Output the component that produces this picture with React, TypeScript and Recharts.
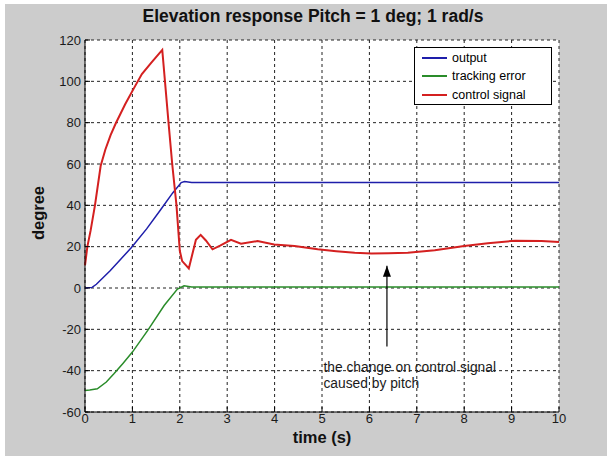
import React from 'react';
import {
  LineChart,
  Line,
  XAxis,
  YAxis,
  CartesianGrid,
  ReferenceLine,
  ReferenceDot,
} from 'recharts';

// elevation output (deg)
const outputTime = [0, 0.15, 0.24, 0.53, 0.98, 1.3, 1.58, 1.85, 2.03, 2.1, 2.25, 10];
const outputValue = [0, 0.3, 1.8, 8.3, 19.6, 28.6, 37.4, 46, 51, 51.5, 51, 51];

// tracking error (deg)
const errorTime = [0, 0.1, 0.26, 0.45, 0.61, 0.8, 1.0, 1.32, 1.67, 1.95, 2.09, 2.25, 10];
const errorValue = [-49.6, -49.4, -48.8, -45.5, -41.5, -36.5, -31, -20.6, -8.5, -0.5, 1.1, 0.5, 0.5];

// control signal
const controlTime = [
  0, 0.05, 0.12, 0.21, 0.33, 0.43, 0.54, 0.65, 0.85, 1.03, 1.2, 1.4, 1.63, 1.77, 1.84, 1.93, 2.0,
  2.05, 2.19, 2.34, 2.44, 2.55, 2.69, 2.85, 3.08, 3.29, 3.64, 3.99, 4.42, 4.91, 5.3, 5.69,
  6.04, 6.4, 6.81, 7.38, 8.0, 8.5, 9.07, 9.63, 10,
];
const controlValue = [
  11, 20, 28, 40, 59, 67, 74, 79.7, 89, 96.6, 103.5, 109, 115.2, 78, 60, 40, 18,
  13, 9.5, 23.3, 25.7, 23, 18.7, 20.5, 23.3, 21.4, 22.7, 21, 20.3, 18.7, 17.8, 17,
  16.7, 16.8, 17, 18.3, 20.3, 21.6, 22.9, 22.7, 22.2,
];

const seriesNames = ['output', 'tracking error', 'control signal'];
const seriesColors = ['#1e1eaa', '#2a8c2a', '#d42020'];

const xTicks = [0, 1, 2, 3, 4, 5, 6, 7, 8, 9, 10];
const yTicks = [-60, -40, -20, 0, 20, 40, 60, 80, 100, 120];

// annotation: arrow from (6.37, -28.3) up to (6.37, 10.8), text anchored at (5.03, -40.8)
const arrowX = 6.37;
const arrowFrom = -28.3;
const arrowTo = 10.8;
const noteX = 5.03;
const noteY = -40.8;
const noteLines = ['the change on control signal', 'caused by pitch'];

const toPoints = (t: number[], v: number[]) => t.map((x, i) => ({ t: x, v: v[i] }));

const seriesData = [
  toPoints(outputTime, outputValue),
  toPoints(errorTime, errorValue),
  toPoints(controlTime, controlValue),
];

const FONT = '"Liberation Sans", Arial, sans-serif';
const tickStyle = { fontSize: 13, fill: '#1a1a1a', fontFamily: FONT };

const LegendBox = () => (
  <div
    style={{
      position: 'absolute',
      left: 414,
      top: 47,
      border: '1px solid #000',
      background: '#fff',
      width: 136,
      height: 55,
      fontFamily: FONT,
      fontSize: 12.5,
      color: '#000',
      paddingTop: 1,
    }}
  >
    {seriesNames.map((name, i) => (
      <div key={name} style={{ display: 'flex', alignItems: 'center', height: 18.3 }}>
        <span
          style={{
            display: 'inline-block',
            width: 25,
            marginLeft: 7,
            marginRight: 5,
            borderTop: `2px solid ${seriesColors[i]}`,
          }}
        />
        <span>{name}</span>
      </div>
    ))}
  </div>
);

const ArrowHead = (props: any) => {
  const { cx, cy } = props;
  return <path d={`M${cx},${cy} L${cx - 4},${cy + 11} L${cx + 4},${cy + 11} Z`} fill="#000" />;
};

const NoteText = (props: any) => {
  const { cx, cy } = props;
  return (
    <text x={cx} y={cy} fontFamily={FONT} fontSize={13.8} fill="#1a1a1a">
      {noteLines.map((line, i) => (
        <tspan key={line} x={cx} dy={i === 0 ? 0 : 15.5}>
          {line}
        </tspan>
      ))}
    </text>
  );
};

export default function App() {
  return (
    <div style={{ position: 'absolute', left: 0, top: 0, width: 611, height: 459, background: '#fff' }}>
      <div
        style={{
          position: 'absolute',
          left: 5,
          top: 4,
          width: 602,
          height: 452,
          background: '#cccccc',
        }}
      />
      <div
        style={{
          position: 'absolute',
          left: 113,
          width: 400,
          top: 6,
          textAlign: 'center',
          fontFamily: FONT,
          fontWeight: 'bold',
          fontSize: 17.5,
          color: '#111',
        }}
      >
        Elevation response Pitch = 1 deg; 1 rad/s
      </div>
      <div style={{ position: 'absolute', left: 0, top: 0 }}>
        <LineChart width={611} height={459} margin={{ top: 40, right: 52, bottom: 17, left: 45 }}>
          <CartesianGrid stroke="#222" strokeDasharray="3 3" fill="#fff" fillOpacity={1} />
          <XAxis
            dataKey="t"
            type="number"
            domain={[0, 10]}
            ticks={xTicks}
            allowDuplicatedCategory={false}
            height={30}
            tickSize={-5}
            tickMargin={7}
            tick={tickStyle}
            stroke="#000"
            label={{
              value: 'time (s)',
              position: 'insideBottom',
              offset: -1,
              style: { fontFamily: FONT, fontWeight: 'bold', fontSize: 16.5, fill: '#111' },
            }}
          />
          <XAxis
            xAxisId="top"
            orientation="top"
            type="number"
            domain={[0, 10]}
            ticks={xTicks}
            height={0}
            tickSize={-5}
            tickFormatter={() => ''}
            stroke="#000"
          />
          <YAxis
            type="number"
            domain={[-60, 120]}
            ticks={yTicks}
            width={40}
            tickSize={-5}
            tickMargin={9}
            tick={tickStyle}
            stroke="#000"
            label={{
              value: 'degree',
              angle: -90,
              position: 'insideLeft',
              offset: -7,
              dy: -13,
              style: { fontFamily: FONT, fontWeight: 'bold', fontSize: 16.5, fill: '#111', textAnchor: 'middle' },
            }}
          />
          <YAxis
            yAxisId="right"
            orientation="right"
            type="number"
            domain={[-60, 120]}
            ticks={yTicks}
            width={0}
            tickSize={-5}
            tickFormatter={() => ''}
            stroke="#000"
          />
          {seriesData.map((data, i) => (
            <Line
              key={seriesNames[i]}
              data={data}
              dataKey="v"
              name={seriesNames[i]}
              stroke={seriesColors[i]}
              strokeWidth={i === 2 ? 2 : 1.5}
              dot={false}
              type="linear"
              isAnimationActive={false}
            />
          ))}
          <ReferenceLine
            segment={[
              { x: arrowX, y: arrowFrom },
              { x: arrowX, y: arrowTo },
            ]}
            stroke="#000"
            strokeWidth={1.2}
          />
          <ReferenceDot x={arrowX} y={arrowTo} r={0} shape={<ArrowHead />} />
          <ReferenceDot x={noteX} y={noteY} r={0} shape={<NoteText />} />
        </LineChart>
      </div>
      <LegendBox />
    </div>
  );
}
